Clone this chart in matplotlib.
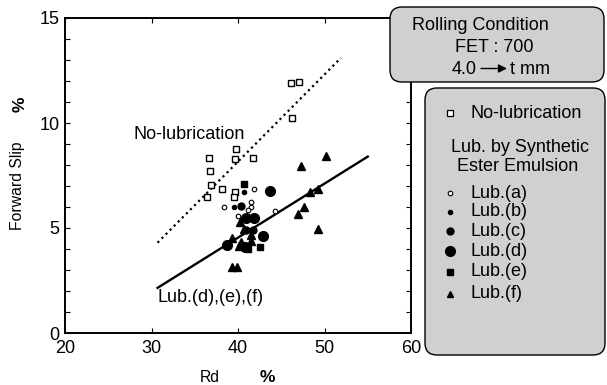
import matplotlib
matplotlib.use("Agg")
import matplotlib.pyplot as plt
from matplotlib.patches import FancyBboxPatch, FancyArrowPatch
from matplotlib.lines import Line2D

plt.rcParams['font.family'] = ['Liberation Sans', 'DejaVu Sans']

# Rd (%) vs forward slip (%)
nolub_x = [46.1, 47.1, 46.3, 39.8, 36.6, 39.6, 41.7, 36.8, 36.9, 38.2, 39.7, 36.4, 39.5]
nolub_y = [11.9, 11.95, 10.25, 8.75, 8.33, 8.29, 8.33, 7.71, 7.05, 6.86, 6.71, 6.48, 6.48]

luba_x = [38.4, 41.9, 41.45, 41.45, 41.1, 44.3, 40.0]
luba_y = [6.01, 6.86, 6.25, 6.01, 5.86, 5.81, 5.59]

lubb_x = [40.7, 39.5]
lubb_y = [6.73, 6.01]

lubc_x = [40.3, 40.9, 41.7]
lubc_y = [6.05, 4.90, 4.90]

lubd_x = [43.65, 40.9, 41.8, 42.9, 38.75, 40.8]
lubd_y = [6.76, 5.48, 5.48, 4.63, 4.19, 4.11]

lube_x = [40.7, 41.1, 42.5]
lube_y = [7.08, 3.99, 4.11]

lubf_x = [50.2, 47.3, 48.3, 49.2, 47.6, 46.9, 49.2, 40.2, 40.7, 41.45, 41.45, 39.25, 40.3, 40.1, 39.25, 39.9]
lubf_y = [8.43, 7.95, 6.73, 6.84, 6.01, 5.67, 4.94, 5.27, 4.95, 4.67, 4.38, 4.51, 4.35, 4.16, 3.16, 3.16]

# regression lines
nolub_line_x = [30.7, 51.9]
nolub_line_y = [4.3, 13.1]
lub_line_x = [30.7, 55.0]
lub_line_y = [2.15, 8.4]

fs = 13

fig = plt.figure(figsize=(6.07, 3.85), dpi=100)
ax = fig.add_axes([65/607, 52/385, 346/607, 315/385])

ax.plot(nolub_line_x, nolub_line_y, color='black', lw=1.6, linestyle=(0, (1, 1.6)))
ax.plot(lub_line_x, lub_line_y, color='black', lw=1.7)

ax.plot(nolub_x, nolub_y, 's', ms=4.8, mfc='white', mec='black', mew=1.0, ls='none')
ax.plot(luba_x, luba_y, 'o', ms=3.3, mfc='white', mec='black', mew=0.8, ls='none')
ax.plot(lubb_x, lubb_y, 'o', ms=3.0, color='black', ls='none')
ax.plot(lubc_x, lubc_y, 'o', ms=5.0, color='black', ls='none')
ax.plot(lubd_x, lubd_y, 'o', ms=7.0, color='black', ls='none')
ax.plot(lube_x, lube_y, 's', ms=4.8, color='black', ls='none')
ax.plot(lubf_x, lubf_y, '^', ms=6.2, color='black', ls='none')

ax.text(27.9, 9.43, 'No-lubrication', fontsize=fs, va='center', ha='left')
ax.text(30.7, 1.71, 'Lub.(d),(e),(f)', fontsize=fs, va='center', ha='left')

ax.set_xlim(20, 60)
ax.set_ylim(0, 15)
ax.set_xticks([20, 30, 40, 50, 60])
ax.set_yticks([0, 5, 10, 15])
ax.set_yticks(range(0, 16), minor=True)
ax.tick_params(which='both', direction='in', top=True, right=True, length=3.5, width=0.8,
               labelsize=fs)
ax.tick_params(axis='y', pad=4)
ax.tick_params(axis='x', pad=5)
for s in ax.spines.values():
    s.set_linewidth(1.4)

# axis labels
fig.text(18/607, 1 - 186/385, 'Forward Slip', rotation=90, fontsize=11.3, ha='center', va='center')
fig.text(20/607, 1 - 104/385, '%', rotation=90, fontsize=12.5, fontweight='bold', ha='center', va='center')
fig.text(210/607, 1 - 377/385, 'Rd', fontsize=11.3, ha='center', va='center')
fig.text(267/607, 1 - 377/385, '%', fontsize=12.5, fontweight='bold', ha='center', va='center')

# rolling condition box
tr = fig.dpi_scale_trans
def inch(x, y):
    return x / 100, (385 - y) / 100

b1 = FancyBboxPatch(inch(390, 82), 2.14, 0.75, boxstyle='round,pad=0,rounding_size=0.12',
                    transform=tr, facecolor='#d0d0d0', edgecolor='black', lw=1.0, zorder=5)
fig.add_artist(b1)
fig.text(*inch(480, 26), 'Rolling Condition', transform=tr, fontsize=fs, ha='center', va='center', zorder=6)
fig.text(*inch(494, 48), 'FET : 700', transform=tr, fontsize=fs, ha='center', va='center', zorder=6)
fig.text(*inch(477, 70), '4.0', transform=tr, fontsize=fs, ha='right', va='center', zorder=6)
fig.text(*inch(510, 70), 't mm', transform=tr, fontsize=fs, ha='left', va='center', zorder=6)
fig.add_artist(FancyArrowPatch(inch(481, 68.5), inch(507, 68.5), transform=tr,
               arrowstyle='-|>,head_length=5,head_width=2.5', color='black', lw=1.0,
               shrinkA=0, shrinkB=0, zorder=6))

# legend box
b2 = FancyBboxPatch(inch(425, 355), 1.80, 2.67, boxstyle='round,pad=0,rounding_size=0.12',
                    transform=tr, facecolor='#d0d0d0', edgecolor='black', lw=1.0, zorder=5)
fig.add_artist(b2)

entries = [
    ('No-lubrication', 113, dict(marker='s', ms=4.0, mfc='white', mec='black', mew=0.9)),
    ('Lub.(a)', 193, dict(marker='o', ms=3.3, mfc='white', mec='black', mew=0.8)),
    ('Lub.(b)', 212, dict(marker='o', ms=3.0, color='black')),
    ('Lub.(c)', 231, dict(marker='o', ms=5.0, color='black')),
    ('Lub.(d)', 251, dict(marker='o', ms=7.0, color='black')),
    ('Lub.(e)', 272, dict(marker='s', ms=5.0, color='black')),
    ('Lub.(f)', 294, dict(marker='^', ms=5.0, color='black')),
]
for label, y, style in entries:
    fig.add_artist(Line2D([450 / 100], [(385 - y) / 100], transform=tr, ls='none', zorder=6, **style))
    fig.text(*inch(470, y), label, transform=tr, fontsize=fs, ha='left', va='center', zorder=6)
fig.text(*inch(520, 147), 'Lub. by Synthetic', transform=tr, fontsize=fs, ha='center', va='center', zorder=6)
fig.text(*inch(518, 167), 'Ester Emulsion', transform=tr, fontsize=fs, ha='center', va='center', zorder=6)

plt.savefig('out.png', dpi=100)
